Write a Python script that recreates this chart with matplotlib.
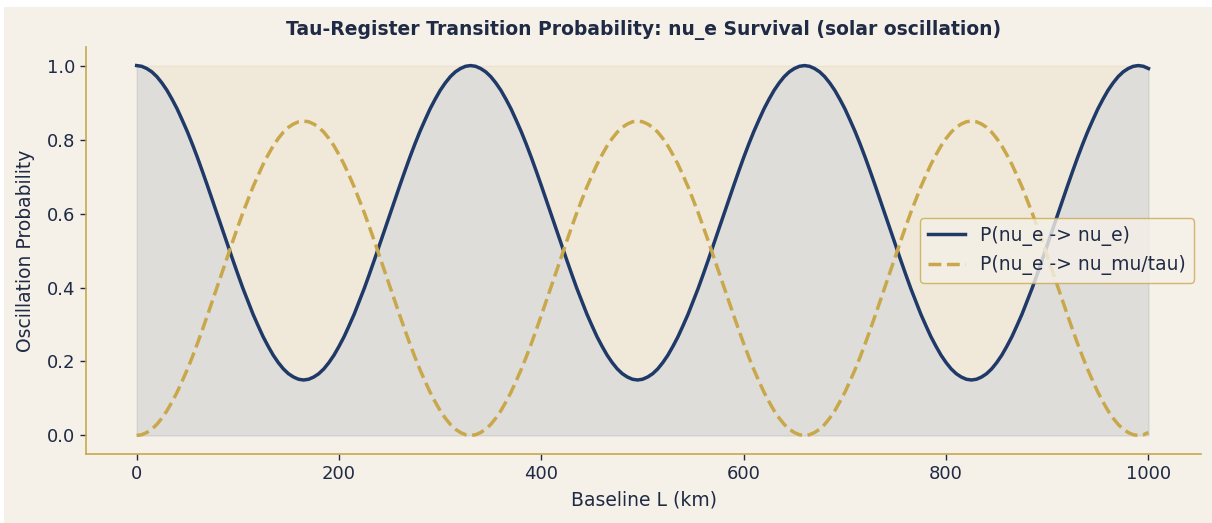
import matplotlib
matplotlib.use("Agg")
import matplotlib.pyplot as plt
from matplotlib.patches import Rectangle

baseline_km = list(range(0, 1001, 5))

p_survival = [
    # 0 - 325 km
    1.000, 0.998, 0.992, 0.983, 0.970, 0.953, 0.933, 0.909, 0.883, 0.853, 0.822,
    0.788, 0.752, 0.714, 0.675, 0.635, 0.595, 0.555, 0.515, 0.475, 0.436, 0.398,
    0.363, 0.328, 0.297, 0.267, 0.241, 0.217, 0.197, 0.180, 0.167, 0.158, 0.152,
    0.150, 0.152, 0.158, 0.167, 0.180, 0.197, 0.217, 0.241, 0.267, 0.297, 0.328,
    0.363, 0.398, 0.436, 0.475, 0.515, 0.555, 0.595, 0.635, 0.675, 0.714, 0.752,
    0.788, 0.822, 0.853, 0.883, 0.909, 0.933, 0.953, 0.970, 0.983, 0.992, 0.998,
    # 330 - 655 km
    1.000, 0.998, 0.992, 0.983, 0.970, 0.953, 0.933, 0.909, 0.883, 0.853, 0.822,
    0.788, 0.752, 0.714, 0.675, 0.635, 0.595, 0.555, 0.515, 0.475, 0.436, 0.398,
    0.363, 0.328, 0.297, 0.267, 0.241, 0.217, 0.197, 0.180, 0.167, 0.158, 0.152,
    0.150, 0.152, 0.158, 0.167, 0.180, 0.197, 0.217, 0.241, 0.267, 0.297, 0.328,
    0.363, 0.398, 0.436, 0.475, 0.515, 0.555, 0.595, 0.635, 0.675, 0.714, 0.752,
    0.788, 0.822, 0.853, 0.883, 0.909, 0.933, 0.953, 0.970, 0.983, 0.992, 0.998,
    # 660 - 985 km
    1.000, 0.998, 0.992, 0.983, 0.970, 0.953, 0.933, 0.909, 0.883, 0.853, 0.822,
    0.788, 0.752, 0.714, 0.675, 0.635, 0.595, 0.555, 0.515, 0.475, 0.436, 0.398,
    0.363, 0.328, 0.297, 0.267, 0.241, 0.217, 0.197, 0.180, 0.167, 0.158, 0.152,
    0.150, 0.152, 0.158, 0.167, 0.180, 0.197, 0.217, 0.241, 0.267, 0.297, 0.328,
    0.363, 0.398, 0.436, 0.475, 0.515, 0.555, 0.595, 0.635, 0.675, 0.714, 0.752,
    0.788, 0.822, 0.853, 0.883, 0.909, 0.933, 0.953, 0.970, 0.983, 0.992, 0.998,
    # 990 - 1000 km
    1.000, 0.998, 0.992,
]

p_transition = [
    # 0 - 325 km
    0.000, 0.002, 0.008, 0.017, 0.030, 0.047, 0.067, 0.091, 0.117, 0.147, 0.178,
    0.212, 0.248, 0.286, 0.325, 0.365, 0.405, 0.445, 0.485, 0.525, 0.564, 0.602,
    0.637, 0.672, 0.703, 0.733, 0.759, 0.783, 0.803, 0.820, 0.833, 0.842, 0.848,
    0.850, 0.848, 0.842, 0.833, 0.820, 0.803, 0.783, 0.759, 0.733, 0.703, 0.672,
    0.637, 0.602, 0.564, 0.525, 0.485, 0.445, 0.405, 0.365, 0.325, 0.286, 0.248,
    0.212, 0.178, 0.147, 0.117, 0.091, 0.067, 0.047, 0.030, 0.017, 0.008, 0.002,
    # 330 - 655 km
    0.000, 0.002, 0.008, 0.017, 0.030, 0.047, 0.067, 0.091, 0.117, 0.147, 0.178,
    0.212, 0.248, 0.286, 0.325, 0.365, 0.405, 0.445, 0.485, 0.525, 0.564, 0.602,
    0.637, 0.672, 0.703, 0.733, 0.759, 0.783, 0.803, 0.820, 0.833, 0.842, 0.848,
    0.850, 0.848, 0.842, 0.833, 0.820, 0.803, 0.783, 0.759, 0.733, 0.703, 0.672,
    0.637, 0.602, 0.564, 0.525, 0.485, 0.445, 0.405, 0.365, 0.325, 0.286, 0.248,
    0.212, 0.178, 0.147, 0.117, 0.091, 0.067, 0.047, 0.030, 0.017, 0.008, 0.002,
    # 660 - 985 km
    0.000, 0.002, 0.008, 0.017, 0.030, 0.047, 0.067, 0.091, 0.117, 0.147, 0.178,
    0.212, 0.248, 0.286, 0.325, 0.365, 0.405, 0.445, 0.485, 0.525, 0.564, 0.602,
    0.637, 0.672, 0.703, 0.733, 0.759, 0.783, 0.803, 0.820, 0.833, 0.842, 0.848,
    0.850, 0.848, 0.842, 0.833, 0.820, 0.803, 0.783, 0.759, 0.733, 0.703, 0.672,
    0.637, 0.602, 0.564, 0.525, 0.485, 0.445, 0.405, 0.365, 0.325, 0.286, 0.248,
    0.212, 0.178, 0.147, 0.117, 0.091, 0.067, 0.047, 0.030, 0.017, 0.008, 0.002,
    # 990 - 1000 km
    0.000, 0.002, 0.008,
]

labels = ["P(nu_e -> nu_e)", "P(nu_e -> nu_mu/tau)"]
title = "Tau-Register Transition Probability: nu_e Survival (solar oscillation)"

BG = "#f5f0e8"
NAVY = "#1f3a68"
GOLD = "#c9a84c"
TEXT = "#1f2a44"

fig = plt.figure(figsize=(12.12, 5.23), dpi=100, facecolor="white")
fig.patches.append(Rectangle((4 / 1212, 0), 1, (523 - 7) / 523, transform=fig.transFigure,
                             facecolor=BG, edgecolor="none", zorder=-10))
ax = fig.add_axes([0.071, 0.132, 0.920, 0.778])
ax.set_facecolor(BG)

ax.fill_between(baseline_km, 0, p_survival, color=NAVY, alpha=0.10, linewidth=1)
ax.fill_between(baseline_km, p_survival, 1, color=GOLD, alpha=0.10, linewidth=1)
ax.plot(baseline_km, p_survival, color=NAVY, lw=2.5, label=labels[0])
ax.plot(baseline_km, p_transition, color=GOLD, lw=2.5, ls="--", label=labels[1])

ax.set_xlim(-50, 1052)
ax.set_ylim(-0.05, 1.05)
ax.set_xticks([0, 200, 400, 600, 800, 1000])
ax.set_yticks([0.0, 0.2, 0.4, 0.6, 0.8, 1.0])

for s in ["top", "right"]:
    ax.spines[s].set_visible(False)
for s in ["left", "bottom"]:
    ax.spines[s].set_color(GOLD)
    ax.spines[s].set_linewidth(1.2)

ax.tick_params(axis="both", colors=TEXT, labelsize=13, length=4.5, width=1)
ax.set_xlabel("Baseline L (km)", fontsize=13.5, color=TEXT, labelpad=5)
ax.set_ylabel("Oscillation Probability", fontsize=13.5, color=TEXT, labelpad=8)
ax.set_title(title, fontsize=13.5, fontweight="bold", color=TEXT, pad=9)

leg = ax.legend(loc="center right", fontsize=13.5, frameon=True, facecolor=BG,
                edgecolor=GOLD, framealpha=0.8, fancybox=True, borderaxespad=0.4)
for t in leg.get_texts():
    t.set_color(TEXT)

fig.savefig("out.png", dpi=100, facecolor=fig.get_facecolor())
